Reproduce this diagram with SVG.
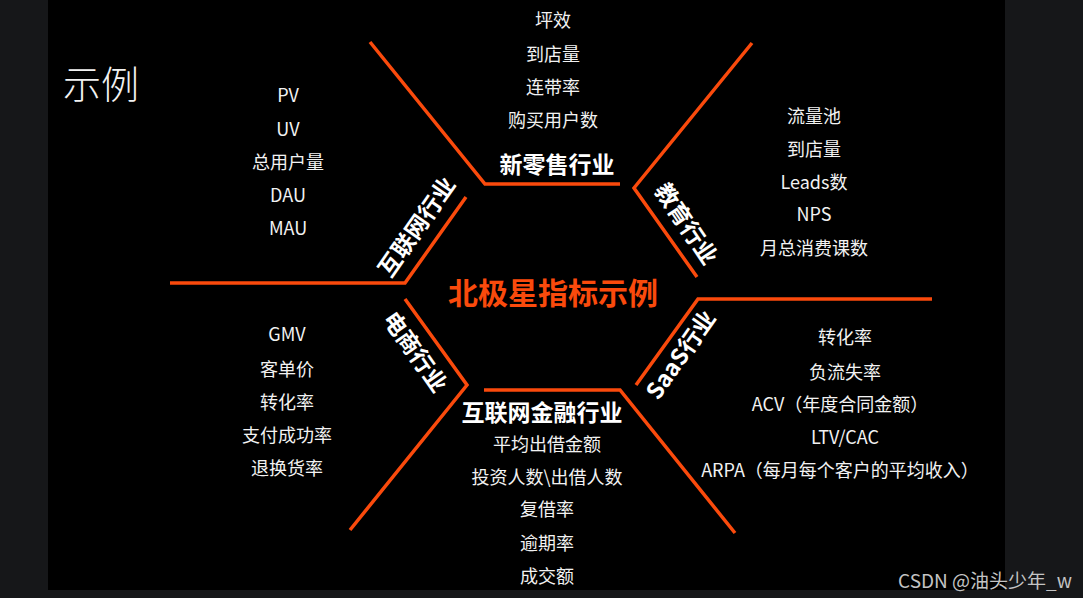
<svg xmlns="http://www.w3.org/2000/svg" width="1083" height="598" viewBox="0 0 1083 598">
<defs>
<style>
.t{font-family:"Noto Sans CJK SC","Noto Sans",sans-serif;fill:#f2f2f2;text-anchor:middle;font-size:18px}
.h{font-family:"Noto Sans CJK SC","Noto Sans",sans-serif;fill:#ffffff;text-anchor:middle;font-size:23px;font-weight:bold}
.ln{fill:none;stroke:#fa4a0c;stroke-width:3.5;stroke-linejoin:miter}
</style>
</defs>
<rect x="0" y="0" width="1083" height="598" fill="#161719"/>
<rect x="48" y="0" width="957" height="590" fill="#000000"/>
<text x="63" y="98" style="font-family:'Noto Sans CJK SC',sans-serif;font-size:38px;fill:#f2f2f2;font-weight:300">示例</text>
<g id="connectors">
<polyline class="ln" points="370,42 485,184 620,184"/>
<polyline class="ln" points="752,43 634,188 697,277"/>
<polyline class="ln" points="932,299 698,299 636,385"/>
<polyline class="ln" points="484,390 620,390 735,533"/>
<polyline class="ln" points="405,299 467,385 350,530"/>
<polyline class="ln" points="170,283 405,283 466,197"/>
</g>
<g id="center">
<text x="553" y="304" style="font-family:'Noto Sans CJK SC',sans-serif;font-size:30px;font-weight:bold;fill:#fa4a0c;text-anchor:middle">北极星指标示例</text>
</g>
<g id="xinlingshou">
<text class="h" x="557" y="173">新零售行业</text>
<text class="t" x="553" y="27">坪效</text>
<text class="t" x="553" y="61">到店量</text>
<text class="t" x="553" y="94">连带率</text>
<text class="t" x="553" y="127">购买用户数</text>
</g>
<g id="jiaoyu">
<text class="h" transform="translate(686,224) rotate(56)" x="0" y="8">教育行业</text>
<text class="t" x="814" y="123">流量池</text>
<text class="t" x="814" y="156">到店量</text>
<text class="t" x="814" y="189">Leads数</text>
<text class="t" x="814" y="221">NPS</text>
<text class="t" x="814" y="255">月总消费课数</text>
</g>
<g id="hulianwang">
<text class="h" transform="translate(417,227) rotate(-55)" x="0" y="8">互联网行业</text>
<text class="t" x="288" y="102">PV</text>
<text class="t" x="288" y="136">UV</text>
<text class="t" x="288" y="169">总用户量</text>
<text class="t" x="288" y="202">DAU</text>
<text class="t" x="288" y="235">MAU</text>
</g>
<g id="dianshang">
<text class="h" transform="translate(415,352) rotate(55)" x="0" y="8">电商行业</text>
<text class="t" x="287" y="341">GMV</text>
<text class="t" x="287" y="376">客单价</text>
<text class="t" x="287" y="409">转化率</text>
<text class="t" x="287" y="442">支付成功率</text>
<text class="t" x="287" y="475">退换货率</text>
</g>
<g id="saas">
<text class="h" transform="translate(681,355) rotate(-55)" x="0" y="8">SaaS行业</text>
<text class="t" x="845" y="344">转化率</text>
<text class="t" x="845" y="379">负流失率</text>
<text class="t" x="840" y="411">ACV（年度合同金额）</text>
<text class="t" x="845" y="444">LTV/CAC</text>
<text class="t" x="840" y="477">ARPA（每月每个客户的平均收入）</text>
</g>
<g id="jinrong">
<text class="h" x="542" y="421">互联网金融行业</text>
<text class="t" x="547" y="451">平均出借金额</text>
<text class="t" x="547" y="484">投资人数\出借人数</text>
<text class="t" x="547" y="516">复借率</text>
<text class="t" x="547" y="550">逾期率</text>
<text class="t" x="547" y="583">成交额</text>
</g>
<text x="985" y="588" style="font-family:'Noto Sans CJK SC',sans-serif;font-size:19px;fill:#c4c4c4;text-anchor:middle">CSDN @油头少年_w</text>
</svg>
